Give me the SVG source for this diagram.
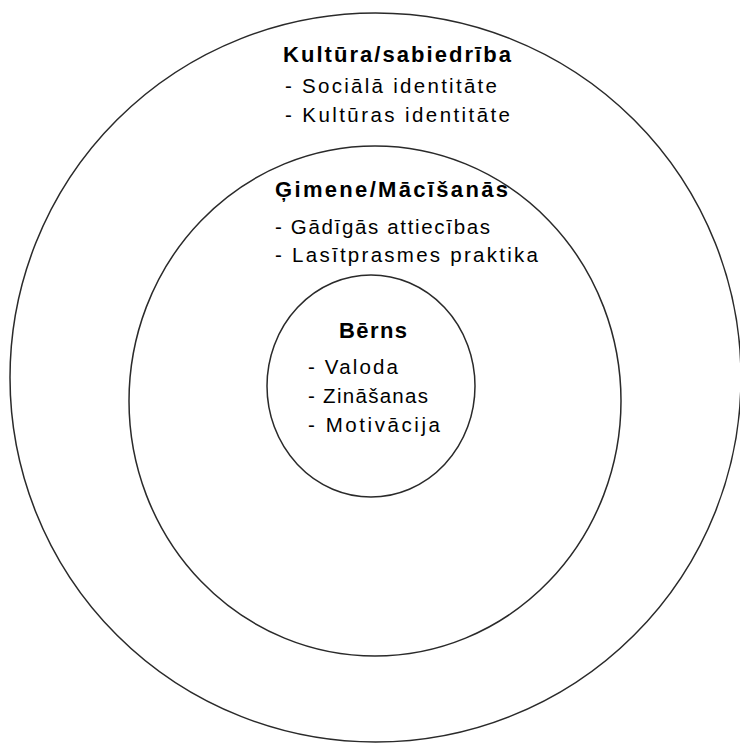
<svg xmlns="http://www.w3.org/2000/svg" width="740" height="746" viewBox="0 0 740 746">
<style>
.ring{fill:none;stroke:#2a2a2a;stroke-width:1.5}
.h{font-family:"Liberation Sans",Arial,sans-serif;font-weight:bold;font-size:22px;fill:#000}
.t{font-family:"Liberation Sans",Arial,sans-serif;font-size:20.5px;fill:#000}
</style>
<rect width="740" height="746" fill="#fff"/>
<g id="kultura">
<ellipse class="ring" cx="375.5" cy="377.5" rx="365.5" ry="364.5"/>
<text class="h" x="283" y="62" textLength="228">Kultūra/sabiedrība</text>
<text class="t" x="285" y="93" textLength="212">- Sociālā identitāte</text>
<text class="t" x="285" y="122" textLength="225">- Kultūras identitāte</text>
</g>
<g id="gimene">
<ellipse class="ring" cx="375" cy="401" rx="246" ry="255"/>
<text class="h" x="275" y="197" textLength="233">Ģimene/Mācīšanās</text>
<text class="t" x="275" y="234" textLength="215">- Gādīgās attiecības</text>
<text class="t" x="275" y="262" textLength="263">- Lasītprasmes praktika</text>
</g>
<g id="berns">
<ellipse class="ring" cx="371" cy="386" rx="104" ry="111"/>
<text class="h" x="339" y="338" textLength="68">Bērns</text>
<text class="t" x="308" y="374" textLength="90">- Valoda</text>
<text class="t" x="308" y="403" textLength="120">- Zināšanas</text>
<text class="t" x="308" y="432" textLength="132">- Motivācija</text>
</g>
</svg>
